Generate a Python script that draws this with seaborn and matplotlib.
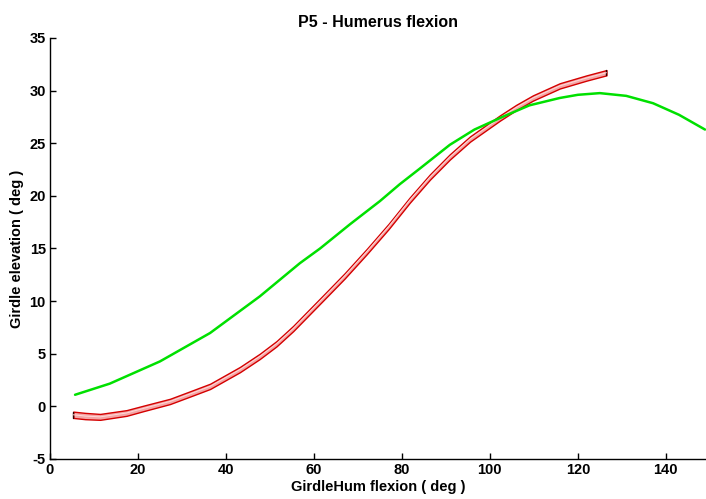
import numpy as np
import pandas as pd
import matplotlib
matplotlib.use('Agg')
import matplotlib.pyplot as plt
import seaborn as sns

# green curve (reference)
green_x = [5.7, 13.6, 25, 36.4, 47.7, 56.8, 61.4, 68.2, 75, 79.5, 84.1, 90.9, 96.5,
           102.3, 109, 115.9, 120, 125, 131, 137.1, 143, 148.9]
green_y = [1.1, 2.16, 4.27, 6.97, 10.45, 13.6, 15.0, 17.3, 19.5, 21.1, 22.6, 24.85,
           26.3, 27.4, 28.6, 29.3, 29.6, 29.76, 29.5, 28.8, 27.7, 26.3]

# red band (mean +/- spread)
red_x = [5.3, 8, 11.4, 17.4, 21.2, 27.3, 32.6, 36.4, 43.2, 47.7, 51.5, 55.3, 62.1,
         67, 72, 77, 81.8, 86.4, 90.9, 95.5, 102.3, 106, 109.8, 115.9, 122, 126.5]
red_mean = [-0.8, -0.92, -1.0, -0.63, -0.2, 0.47, 1.3, 1.9, 3.5, 4.75, 5.95, 7.4,
            10.3, 12.4, 14.7, 17.1, 19.6, 21.8, 23.7, 25.4, 27.4, 28.4, 29.3,
            30.45, 31.2, 31.7]
red_sd = [0.3, 0.3, 0.28, 0.27, 0.26, 0.25, 0.25, 0.25, 0.25, 0.25, 0.25, 0.25,
          0.25, 0.25, 0.25, 0.25, 0.25, 0.25, 0.25, 0.25, 0.25, 0.25, 0.25, 0.25,
          0.25, 0.25]

sns.set_style('white')
plt.rcParams['font.family'] = ['Liberation Sans', 'DejaVu Sans']
plt.rcParams['font.weight'] = 'bold'
plt.rcParams['axes.unicode_minus'] = False
plt.rcParams['text.color'] = 'black'
plt.rcParams['axes.labelcolor'] = 'black'

fig = plt.figure(figsize=(7.06, 4.99), dpi=100)
ax = fig.add_axes([0.0708, 0.0802, 0.929, 0.8437])

rx = np.array(red_x)
rm = np.array(red_mean)
rs = np.array(red_sd)
ax.fill_between(rx, rm - rs, rm + rs, facecolor='#f4a6a6', edgecolor='#d40000',
                linewidth=1.0, zorder=2)
ax.plot([rx[0], rx[0]], [rm[0] - rs[0], rm[0] + rs[0]], color='#300000', lw=1.0, zorder=3)
ax.plot([rx[-1], rx[-1]], [rm[-1] - rs[-1], rm[-1] + rs[-1]], color='#300000', lw=1.0, zorder=3)
red_df = pd.DataFrame({'x': red_x, 'y': red_mean})
sns.lineplot(data=red_df, x='x', y='y', ax=ax, color='#ffd8d8', lw=0.7,
             sort=False, estimator=None, zorder=3)

green_df = pd.DataFrame({'x': green_x, 'y': green_y})
sns.lineplot(data=green_df, x='x', y='y', ax=ax, color='#00e000', lw=1.8,
             sort=False, estimator=None, zorder=4)

ax.set_xlim(0, 149.1)
ax.set_ylim(-5, 35)
ax.set_xticks(np.arange(0, 141, 20))
ax.set_yticks(np.arange(-5, 36, 5))
ax.tick_params(direction='in', length=4, width=1, labelsize=10.5, pad=3,
               left=True, bottom=True, colors='black')
for lab in ax.get_xticklabels() + ax.get_yticklabels():
    lab.set_fontweight('bold')
for side in ['top', 'right']:
    ax.spines[side].set_visible(False)
for side in ['left', 'bottom']:
    ax.spines[side].set_color('black')
    ax.spines[side].set_linewidth(1.0)

ax.set_title('P5 - Humerus flexion', fontsize=11.5, fontweight='bold', pad=8, color='black')
ax.set_xlabel('GirdleHum flexion ( deg )', fontsize=10.5, fontweight='bold', labelpad=2)
ax.set_ylabel('Girdle elevation ( deg )', fontsize=10.5, fontweight='bold', labelpad=4)

fig.savefig('out.png', dpi=100)
